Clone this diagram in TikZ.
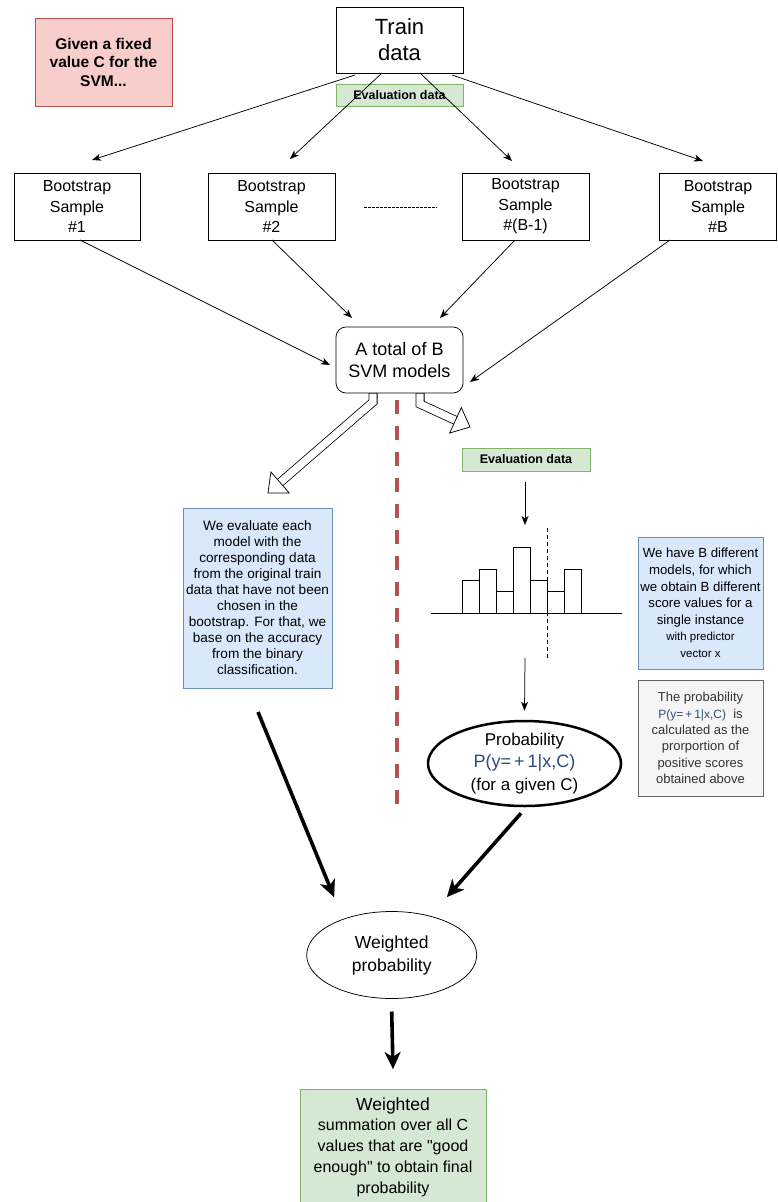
\documentclass[tikz,border=0pt]{standalone}
\usepackage{fontspec}
\setmainfont{Liberation Sans}[Ligatures=TeXOff]
\usetikzlibrary{arrows.meta,shapes.geometric,calc}
\definecolor{redfill}{HTML}{F8CECC}
\definecolor{redline}{HTML}{B85450}
\definecolor{greenfill}{HTML}{D5E8D4}
\definecolor{greenline}{HTML}{82B366}
\definecolor{bluefill}{HTML}{DAE8FC}
\definecolor{blueline}{HTML}{6C8EBF}
\definecolor{grayfill}{HTML}{F5F5F5}
\definecolor{grayline}{HTML}{666666}
\definecolor{graytext}{HTML}{333333}
\definecolor{pblue}{HTML}{2E4A7D}
\newcommand{\hollowarr}[3]{%
  \path ($(#3)!16pt!(#2)$) coordinate (hh);
  \draw[line width=9pt, line join=miter] (#1) -- (#2) -- (hh);
  \draw[line width=7.4pt, white, line join=miter] ($(#1)+(0,0.6)$) -- (#2) -- (hh);
  \draw[fill=white, line width=0.75pt, line join=miter] (#3) -- ($(hh)!14pt!90:(#3)$) -- ($(hh)!14pt!-90:(#3)$) -- cycle;
}
\begin{document}
\begin{tikzpicture}[x=1pt,y=-1pt,
  base/.style={align=center, inner sep=0pt, outer sep=0pt, line width=0.75pt},
  plainbox/.style={base, draw=black, fill=white},
  redbox/.style={base, draw=redline, fill=redfill},
  greenbox/.style={base, draw=greenline, fill=greenfill},
  bluebox/.style={base, draw=blueline, fill=bluefill},
  graybox/.style={base, draw=grayline, fill=grayfill, text=graytext},
  bsbox/.style={plainbox, minimum height=67pt, font=\fontsize{16}{20.5}\selectfont},
  arr/.style={line width=0.75pt, -{Stealth[length=9pt,width=7pt,inset=2.5pt]}},
  bigarr/.style={line width=3.6pt, -{Stealth[length=17pt,width=16pt,inset=5pt,line width=0.1pt]}},
]
\useasboundingbox (0,0) rectangle (777,1202);
\fill[white] (0,0) rectangle (777,1202);

% top
\node[redbox, minimum width=137pt, minimum height=88pt, font=\fontsize{15.5}{18.5}\selectfont\bfseries] (given) at (103.5,62) {Given a fixed\\value C for the\\SVM...};
\node[plainbox, minimum width=127pt, minimum height=66pt, font=\fontsize{22}{26}\selectfont] (train) at (399.5,40) {Train\\data};
\node[greenbox, minimum width=127pt, minimum height=22pt, font=\fontsize{12.5}{14}\selectfont\bfseries] (evaltop) at (399.5,95) {Evaluation data};

% bootstrap samples
\node[bsbox, minimum width=126pt] (bs1) at (77,206.5) {Bootstrap\\Sample\\\#1};
\node[bsbox, minimum width=127pt] (bs2) at (271.5,206.5) {Bootstrap\\Sample\\\#2};
\node[bsbox, minimum width=127pt] (bsb1) at (525.5,206.5) {Bootstrap\\Sample\\\#(B-1)};
\node[bsbox, minimum width=117.5pt] (bsB) at (718,206.5) {Bootstrap\\Sample\\\#B};
\coordinate (dotsL) at (364,207);
\coordinate (dotsR) at (437,207);
\draw[line width=0.75pt, dash pattern=on 2.5pt off 1.5pt] (dotsL) -- (dotsR);

% SVM box
\node[plainbox, rounded corners=10pt, minimum width=127pt, minimum height=66pt, font=\fontsize{18}{22}\selectfont] (svm) at (399.5,360) {A total of B\\SVM models};

% arrows train -> bootstrap
\draw[arr] ([xshift=-44.5pt,yshift=-2pt]train.south) -- ([shift={(15pt,13pt)}]bs1.north);
\draw[arr] ([xshift=-17.5pt]train.south) -- ([shift={(18.5pt,14pt)}]bs2.north);
\draw[arr] ([xshift=20.5pt]train.south) -- ([shift={(-13.5pt,12pt)}]bsb1.north);
\draw[arr] ([xshift=52.5pt,yshift=-2pt]train.south) -- ([shift={(-15pt,12pt)}]bsB.north);

% arrows bootstrap -> svm
\draw[arr] ([xshift=3pt]bs1.south) -- ([shift={(-6pt,-5pt)}]svm.west);
\draw[arr] ([xshift=0.5pt]bs2.south) -- ([shift={(-47.5pt,9pt)}]svm.north);
\draw[arr] ([xshift=-10.5pt]bsb1.south) -- ([shift={(40.5pt,9pt)}]svm.north);
\draw[arr] ([xshift=-48pt]bsB.south) -- ([shift={(7pt,-22pt)}]svm.east);

% hollow arrows
\coordinate (hlS) at ([xshift=-26.5pt]svm.south);
\coordinate (hlB) at ([shift={(-26.5pt,-9pt)}]svm.south);
\coordinate (hlT) at (268,493);
\hollowarr{hlS}{hlB}{hlT}
\coordinate (hrS) at ([xshift=20.5pt]svm.south);
\coordinate (hrB) at ([shift={(20.5pt,-11pt)}]svm.south);
\coordinate (hrT) at (470,427);
\hollowarr{hrS}{hrB}{hrT}

% red dashed separator
\coordinate (sepT) at (397,400);
\coordinate (sepB) at (397,812);
\draw[redline, line width=4pt, dash pattern=on 14pt off 12pt] (sepT) -- (sepB);

% left column
\node[bluebox, minimum width=149pt, minimum height=180pt, font=\fontsize{13.6}{16}\selectfont] (leftbox) at (257.5,598) {We evaluate each\\model with the\\corresponding data\\from the original train\\data that have not been\\chosen in the\\bootstrap. For that, we\\base on the accuracy\\from the binary\\classification.};

% right column
\node[greenbox, minimum width=128pt, minimum height=23pt, font=\fontsize{12.5}{14}\selectfont\bfseries] (evalR) at (526,459.5) {Evaluation data};
\coordinate (ea1) at (525,482);
\coordinate (ea2) at (525,525);
\draw[arr] (ea1) -- (ea2);

% histogram
\draw[line width=0.9pt, fill=white] (462.7,613.3) rectangle (479.3,580.7);
\draw[line width=0.9pt, fill=white] (479.3,613.3) rectangle (496.7,569.3);
\draw[line width=0.9pt, fill=white] (496.7,613.3) rectangle (513.3,591.7);
\draw[line width=0.9pt, fill=white] (513.3,613.3) rectangle (530.7,547.7);
\draw[line width=0.9pt, fill=white] (530.7,613.3) rectangle (547.3,580.7);
\draw[line width=0.9pt, fill=white] (547.3,613.3) rectangle (564.3,591.7);
\draw[line width=0.9pt, fill=white] (564.3,613.3) rectangle (581.7,569.3);
\coordinate (axL) at (431,613.3);
\coordinate (axR) at (621.7,613.3);
\draw[line width=0.9pt] (axL) -- (axR);
\coordinate (thT) at (547.3,528);
\coordinate (thB) at (547.3,660);
\draw[line width=0.75pt, dash pattern=on 4pt off 3pt] (thT) -- (thB);

\node[bluebox, minimum width=125pt, minimum height=132pt, font=\fontsize{13.2}{16.6}\selectfont] (rightbox) at (700.5,603) {We have B different\\models, for which\\we obtain B different\\score values for a\\single instance\\{\fontsize{11.5}{14}\selectfont with predictor}\\{\fontsize{11.5}{14}\selectfont vector x}};
\node[graybox, minimum width=125pt, minimum height=116pt, font=\fontsize{13}{16.3}\selectfont] (graybox) at (700.5,738) {The probability\\{\color{pblue}\fontsize{12}{14}\selectfont P(y=\thinspace+\thinspace1|x,C)}\ \ is\\calculated as the\\prorportion of\\positive scores\\obtained above};

\node[draw=black, line width=2.5pt, ellipse, minimum width=193pt, minimum height=85pt, inner sep=0pt] (prob) at (524.5,763.5) {};
\node[base, font=\fontsize{17}{22.5}\selectfont] (probtext) at (prob.center) {Probability\\{\color{pblue}\fontsize{18}{22.5}\selectfont P(y=\thinspace+\thinspace1|x,C)}\\(for a given C)};
\coordinate (pa1) at (525,658);
\draw[arr] (pa1) -- ([yshift=9pt]prob.north);

% weighted probability
\node[base, draw=black, ellipse, minimum width=170pt, minimum height=87pt, font=\fontsize{17.5}{23}\selectfont] (wp) at (391.7,955) {Weighted\\probability};
\draw[bigarr] ([shift={(0.5pt,-24pt)}]leftbox.south) -- ([shift={(-57.7pt,14.5pt)}]wp.north);
\draw[bigarr] ([shift={(-3.5pt,-6pt)}]prob.south) -- ([shift={(55.3pt,14.5pt)}]wp.north);

% final
\node[greenbox, minimum width=186pt, minimum height=116pt, font=\fontsize{16}{20.8}\selectfont] (final) at (393,1147) {{\fontsize{17.5}{20}\selectfont Weighted}\\summation over all C\\values that are "good\\enough" to obtain final\\probability};
\draw[bigarr] ([yshift=-13pt]wp.south) -- ([yshift=20pt]final.north);
\end{tikzpicture}
\end{document}
